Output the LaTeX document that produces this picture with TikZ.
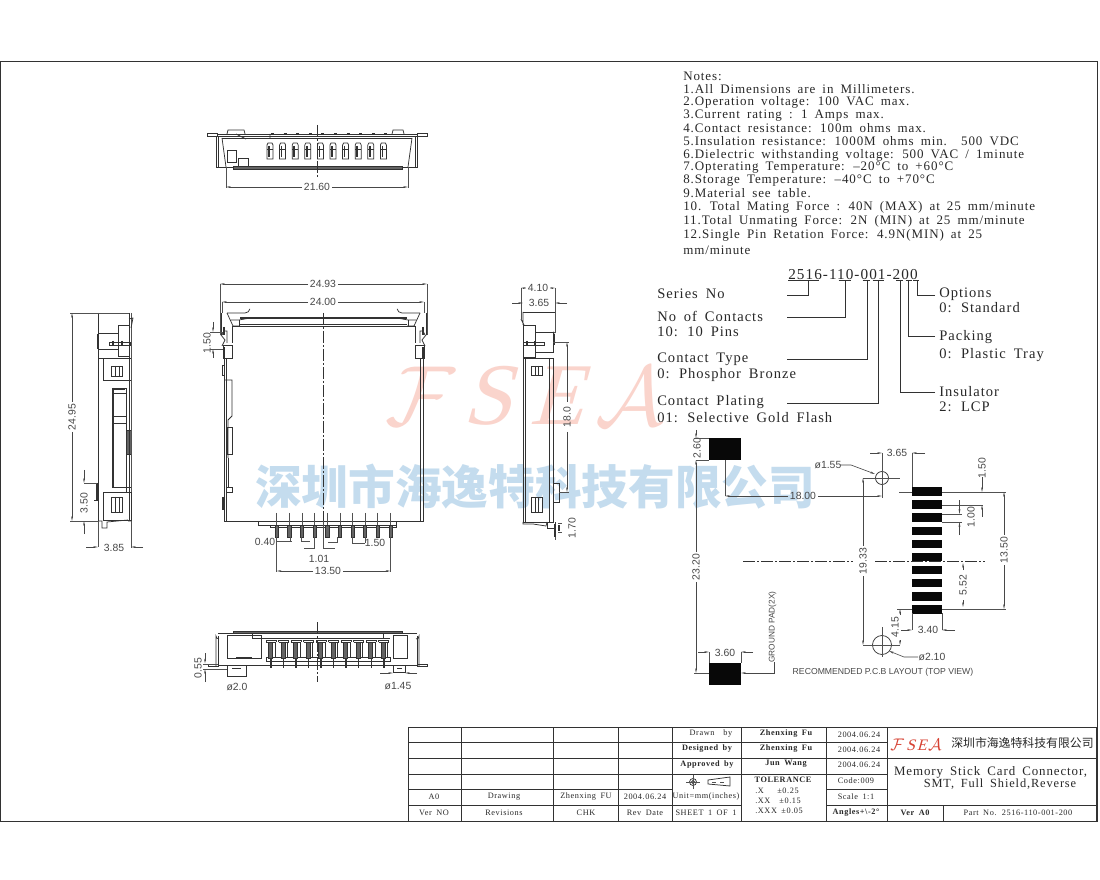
\documentclass[tikz,border=0pt]{standalone}
\usepackage{graphicx}
\usepackage{fontspec}
\usetikzlibrary{arrows.meta}
\setmainfont{Liberation Sans}
\newfontfamily\rn[LetterSpace=7,WordSpace=1.7]{Liberation Serif}
\newfontfamily\dimf{Liberation Sans}
\newfontfamily\cjk{Noto Sans CJK SC}
\newfontfamily\wmserif[FakeSlant=0.28]{Liberation Serif}
\definecolor{ink}{RGB}{50,50,50}
\definecolor{txt}{RGB}{40,40,40}
\definecolor{wmblue}{RGB}{196,220,238}
\definecolor{wmred}{RGB}{250,212,204}
\definecolor{logored}{RGB}{215,65,50}
\definecolor{padk}{RGB}{8,8,8}
\definecolor{pin}{RGB}{100,100,100}
\newcounter{dimc}
\tikzset{
  obj/.style={draw=ink,line width=0.55pt},
  thick obj/.style={draw=ink,line width=1.1pt},
  ext/.style={draw=ink!85,line width=0.4pt},
  center line/.style={draw=ink,line width=0.4pt,dash pattern=on 9pt off 1.5pt on 1.5pt off 1.5pt},
  dimarrow/.style={draw=ink!90,line width=0.45pt,-{Stealth[length=3.6pt,width=1.4pt]}},
  dimtext/.style={font=\dimf\fontsize{7.8}{8}\selectfont,text=txt!85,inner sep=0pt},
  note/.style={font=\rn\fontsize{9.75}{10}\selectfont,text=txt,anchor=west,inner sep=0pt},
  call/.style={font=\rn\fontsize{10.9}{11}\selectfont,text=txt,anchor=west,inner sep=0pt},
  tb/.style={font=\rn\fontsize{6.2}{7}\selectfont,text=txt,inner sep=0pt},
  tbb/.style={font=\rn\bfseries\fontsize{6.2}{7}\selectfont,text=txt,inner sep=0pt},
  grid/.style={draw=ink,line width=0.6pt},
  pad/.style={fill=padk,draw=none},
}
\newcommand{\hdim}[5]{\stepcounter{dimc}%
  \draw[dimarrow] ({#4-15},#1) -- (#2,#1);\draw[dimarrow] ({#4+15},#1) -- (#3,#1);%
  \node[dimtext] (dim\arabic{dimc}) at (#4,#1) {#5};}
\newcommand{\vdim}[5]{\stepcounter{dimc}%
  \draw[dimarrow] (#1,{#4-15}) -- (#1,#2);\draw[dimarrow] (#1,{#4+15}) -- (#1,#3);%
  \node[dimtext,rotate=90] (dim\arabic{dimc}) at (#1,#4) {#5};}
\newcommand{\lab}[3]{\stepcounter{dimc}\node[dimtext] (dim\arabic{dimc}) at (#1,#2) {#3};}
\newcommand{\vlab}[3]{\stepcounter{dimc}\node[dimtext,rotate=90] (dim\arabic{dimc}) at (#1,#2) {#3};}
\newcommand{\cornerfeat}{%
  \draw[obj] (221,313) -- (221,335);
  \draw[obj] (227,313) -- (245,313) arc (90:10:5);
  \draw[obj] (227,313) -- (233,326) -- (240,326);
  \draw[obj] (231,320) -- (239,320) -- (250,318);
  \draw[obj] (239,320) -- (239,326);
  \draw[obj] (232,326) -- (232,343);
  \draw[obj] (222,335) -- (224,331) -- (227,331) -- (227,343);
  \draw[thick obj] (224,327) -- (224,335);
  \draw[obj] (221,335) -- (225,340) -- (222,346);
  \draw[obj] (223,345) rectangle (232,358);
  \draw[thick obj] (224,347) -- (224,358);
}
\begin{document}
\begin{tikzpicture}[x=0.75pt,y=-0.75pt]
\useasboundingbox (0,0) rectangle (1100,880);
\fill[white] (0,0) rectangle (1100,880);
% watermark
\node[inner sep=0pt,text=wmblue] (wmcjk) at (535,487) {\cjk\bfseries\fontsize{35}{35}\selectfont 深圳市海逸特科技有限公司};
\node[inner sep=0pt,text=wmred] (wmF) at (420,396) {\scalebox{6.4}{$\mathcal{F}$}};
\node[inner sep=0pt,text=wmred] (wmS) at (487,396) {\wmserif\fontsize{66}{66}\selectfont S};
\node[inner sep=0pt,text=wmred] (wmE) at (556,396) {\wmserif\fontsize{66}{66}\selectfont E};
\node[inner sep=0pt,text=wmred] (wmA) at (630,396) {\scalebox{6.4}{$\mathcal{A}$}};
% frame
\draw[draw=ink,line width=0.7pt] (0.4,61) -- (1097,61) -- (1097,821) -- (0.4,821) -- cycle;

% ---------- top view
\draw[obj] (207,133) rectangle (217,136);
\draw[obj] (417,133) rectangle (427,136);
\draw[obj] (217,134) -- (417,134) (217,136) -- (417,136);
\draw[obj] (227,134) -- (228,130) -- (244,130) -- (245,134);
\draw[obj] (392,134) -- (393,130) -- (403,130) -- (404,134);
\draw[obj] (216,136) -- (216,167) -- (233,167);
\draw[obj] (218,136) -- (218,167);
\draw[obj] (417,136) -- (417,167) -- (402,167);
\draw[obj] (415,136) -- (415,167);
\draw[obj] (222,138) -- (412,138);
\draw[obj] (222,138) -- (226,167);
\draw[obj] (412,138) -- (408,167);
\draw[obj,fill=pin] (233,166) rectangle (402,169);
\draw[obj] (227,150) rectangle (236,162);
\draw[obj] (238,158) rectangle (248,166);
\draw[obj] (236,134) -- (246,139) (270,134) -- (270,139);
\foreach \i in {0,...,9}{
  \pgfmathsetmacro\cx{270+12.6*\i}
  \draw[obj] ({\cx-3},159) -- ({\cx-3},145) -- ({\cx-2},143) -- ({\cx+2},143) -- ({\cx+3},145) -- ({\cx+3},159) -- cycle;
  \draw[thick obj] ({\cx-1},146) -- ({\cx-1},157);
  \draw[obj] ({\cx-3},149) -- ({\cx+3},149);
  \draw[obj] ({\cx+1},133) -- ({\cx+4},133);
}
\draw[center line] (317,125) -- (317,178);
\draw[ext] (226,167) -- (226,188) (408,167) -- (408,188);
\hdim{187}{226}{408}{317}{21.60}

% ---------- main view
\draw[obj] (224,380) -- (224,521) -- (423,521) -- (423,380);
\draw[obj] (226,358) -- (226,521);
\draw[obj] (420,358) -- (420,521);
\draw[obj] (224,358) -- (224,380) (423,358) -- (423,380);
\draw[obj] (232,326) -- (415,326);
\draw[obj] (240,324.5) -- (407,324.5);
\draw[thick obj] (240,318) -- (407,318);
\cornerfeat
\begin{scope}[shift={(647,0)},xscale=-1]\cornerfeat\end{scope}
\draw[obj] (222,365) rectangle (224,375);
\draw[obj] (224,380) -- (232,380) -- (232,416) (232,416) -- (228,420) -- (228,458);
\draw[obj] (227,427) rectangle (232,454);
\draw[obj] (226,454) -- (226,487);
\draw[obj] (228,458) -- (228,488);
\draw[obj] (226,487) rectangle (232,492);
\draw[thick obj] (223,497) -- (223,510);
\draw[obj] (258,521) -- (258,525) -- (396,525) -- (396,521);
\draw[obj] (270,525) -- (270,527) -- (396,527) -- (396,525);
\foreach \i in {0,...,9}{
  \pgfmathsetmacro\cx{276.7+12.63*\i}
  \draw[ext] (\cx,513) -- (\cx,525);
  \draw[fill=pin,draw=ink,line width=0.4pt] ({\cx-1.6},525) rectangle ({\cx+1.6},537);
}
\draw[center line] (323.3,313) -- (323.3,521);
\hdim{284}{220}{427}{323}{24.93}
\hdim{302}{222}{424}{323}{24.00}
\draw[ext] (220,284) -- (220,335) (427,284) -- (427,335);
\draw[ext] (222,302) -- (222,313) (424,302) -- (424,313);
\draw[ext] (276.7,537) -- (276.7,572) (390.4,537) -- (390.4,572);
\hdim{571}{276.7}{390.4}{328}{13.50}
% 0.40
\lab{265}{542}{0.40}
\draw[ext] (276,541) -- (292,541) (290,537) -- (290,541);
\draw[ext] (301,537) -- (301,541) -- (310,541);
% 1.01
\lab{319}{559}{1.01}
\draw[ext] (314.5,537) -- (314.5,548) -- (304,548);
\draw[ext] (323.3,521) -- (323.3,548) -- (335,548);
% 1.50 bottom
\lab{375}{543}{1.50}
\draw[ext] (352,537) -- (352,543) -- (365,543);
\draw[ext] (365,537) -- (365,543);
\draw[ext] (337,537) -- (337,542) -- (328,542);
% 1.50 left
\vlab{207}{343}{1.50}
\draw[dimarrow] (213,322) -- (213,332);
\draw[dimarrow] (213,358) -- (213,349);
\draw[ext] (210,332) -- (223,332) (210,349) -- (223,349);

% ---------- left view
\draw[obj] (98,313) -- (98,521);
\draw[obj] (129,313) -- (129,358);
\draw[ext] (70,313) -- (129,313) (70,521) -- (98,521);
\draw[obj] (98,358) -- (131,358);
\draw[obj] (103,358) rectangle (131,380);
\draw[obj] (111,366) rectangle (122,376) (115,366) -- (115,376) (119,366) -- (119,376);
\draw[obj] (112,388) rectangle (126,487);
\draw[thick obj] (113,389) -- (125,389);
\draw[obj] (113,388) -- (113,487) (112,393) -- (126,393) (112,416) -- (126,416) (112,423) -- (126,423);
\draw[obj,fill=pin] (126,430) rectangle (131,454);
\draw[obj] (129,358) -- (129,521);
\draw[ext] (131,313) -- (131,548);
\draw[obj] (103,492) rectangle (131,520);
\draw[obj] (126,487) -- (126,492) (131,487) -- (126,487);
\draw[obj] (111,497) rectangle (122,512) (115,497) -- (115,512) (119,497) -- (119,512);
\draw[obj] (118,325) rectangle (129,356);
\draw[obj] (109,342) rectangle (130,345);
\draw[thick obj] (113,341) -- (113,346) (122,341) -- (122,346);
\draw[obj] (98,333) -- (118,333) (98,349) -- (118,349);
\draw[thick obj] (98,334) -- (98,349);
\draw[obj] (129,319) -- (133,318) -- (131,328);
\draw[thick obj] (97,483) -- (97,500);
\draw[obj] (94,483) -- (98,483) (94,500) -- (98,500);
\draw[obj] (98,521) -- (102,521) -- (102,528) -- (107,528) -- (107,522) -- (128,520) (128,521) -- (131,521);
\draw[ext] (98,521) -- (98,547);
\draw[ext] (84,483) -- (97,483);
\vdim{72}{313}{521}{417}{24.95}
\vlab{84}{503}{3.50}
\draw[dimarrow] (84,470) -- (84,483);
\draw[dimarrow] (84,534) -- (84,521);
\lab{114}{548}{3.85}
\draw[dimarrow] (86,547) -- (98,547);
\draw[dimarrow] (143,547) -- (131,547);

% ---------- right view
\draw[ext] (521,288) -- (521,319);
\draw[ext] (555,288) -- (555,333);
\draw[obj] (523,312) -- (555,312);
\draw[obj] (523,312) -- (523,325) (521,319) -- (524,325);
\draw[obj] (523,325) rectangle (535,357);
\draw[obj] (535,332) rectangle (553,352);
\draw[obj] (523,342) rectangle (544,345);
\draw[thick obj] (527,341) -- (527,346) (535,341) -- (535,346);
\draw[thick obj] (554,334) -- (554,345);
\draw[obj] (553,332) -- (555,333);
\draw[obj] (523,358) rectangle (553,522);
\draw[obj] (525.5,358) -- (525.5,522) (549,358) -- (549,522);
\draw[obj] (531,366) rectangle (542,375) (535,366) -- (535,375) (538,366) -- (538,375);
\draw[obj] (531,497) rectangle (542,512) (535,497) -- (535,512) (538,497) -- (538,512);
\draw[obj] (553,483) rectangle (559,502);
\draw[obj] (523,522) -- (523,524) -- (533,524) -- (546,526) -- (547,522);
\draw[obj] (547,522) -- (547,528) -- (555,528) -- (555,522);
\draw[thick obj] (555,524) -- (555,537);
\draw[ext] (555,537) -- (555,540);
\draw[ext] (553,342) -- (569,342) (559,492) -- (569,492);
\hdim{288}{521}{555}{538}{4.10}
\lab{539}{303}{3.65}
\draw[dimarrow] (512,303) -- (523,303);
\draw[dimarrow] (567,303) -- (555,303);
\vdim{567}{342}{492}{417}{18.0}
\vlab{572}{528}{1.70}
\draw[ext] (558,523) -- (562,523) (558,532) -- (562,532);
\draw[thick obj] (559,525) -- (559,531);

% ---------- bottom view
\draw[obj,fill=pin] (233,631) rectangle (402,633);
\draw[obj] (218,633) -- (417,633);
\draw[obj] (216,666) -- (216,636) arc (180:90:3) (419,666) -- (419,636) arc (0:90:3);
\draw[obj] (218,666) -- (218,636) (417,666) -- (417,636);
\draw[obj] (208,664.5) rectangle (218,666.5);
\draw[obj] (417,664.5) rectangle (427,666.5);
\draw[obj] (218,665) -- (417,665);
\draw[obj,fill=white] (252,633) rectangle (383,638);
\draw[obj] (227,635) rectangle (261,658);
\draw[thick obj] (236,657.5) -- (252,657.5);
\draw[obj] (393,635) rectangle (407,658);
\draw[obj] (261,638) -- (390,638);
\draw[obj] (266,657) rectangle (390,661);
\draw[obj] (227,665) -- (227,676) -- (246,676) -- (246,665) (232,668) -- (241,668);
\draw[obj] (393,665) -- (393,672) -- (405,672) -- (405,665) (397,668) -- (402,668);
\foreach \i in {0,...,9}{
  \pgfmathsetmacro\cx{271+12.53*\i}
  \draw[obj] ({\cx-5},642) -- ({\cx-5},640) -- ({\cx+5},640) -- ({\cx+5},642);
  \draw[obj] ({\cx-5},642) -- ({\cx+5},642);
  \draw[fill=pin,draw=ink,line width=0.4pt] ({\cx-2.5},642) rectangle ({\cx+1.5},658);
  \draw[obj] ({\cx+4},642) -- ({\cx+4},658);
  \draw[thick obj] (\cx,658) -- (\cx,667.5);
}
\draw[center line] (317,622) -- (317,682);
\vlab{198}{668}{0.55}
\draw[dimarrow] (205,653) -- (205,663.5);
\draw[dimarrow] (205,682) -- (205,669);
\draw[ext] (203,664) -- (218,664) (203,669) -- (227,669);
\lab{237}{687}{ø2.0}
\lab{398}{686}{ø1.45}
\draw[dimarrow] (380,673) -- (393,673);
\draw[dimarrow] (417,673) -- (405,673);

% ---------- PCB layout
\fill[pad] (709,438) rectangle (741,460);
\fill[pad] (709,663) rectangle (741,685);
\foreach \i in {0,...,9}{
  \fill[pad] (912,{487.3+13.07*\i}) rectangle (942,{496+13.07*\i});
}
\draw[center line] (743,561) -- (853,561) (875,561) -- (985,561);
% 2.60 / 23.20
\vlab{697}{448}{2.60}
\draw[ext] (694,438) -- (709,438) (696,460) -- (709,460);
\draw[dimarrow] (696,430) -- (696,438);
\vdim{696}{460}{673}{567}{23.20}
\draw[ext] (694,673) -- (709,673);
% 3.60
\lab{725}{653}{3.60}
\draw[ext] (709,652) -- (709,663) (741,652) -- (741,663);
\draw[dimarrow] (698,652) -- (709,652);
\draw[dimarrow] (753,652) -- (741,652);
% ground pad
\node[font=\dimf\fontsize{6.2}{7}\selectfont,text=txt!85,rotate=90,inner sep=0pt] (gpad) at (772.5,627) {GROUND PAD(2X)};
\draw[dimarrow] (774,662) -- (774,673) -- (741,673);
% 18.00
\draw[ext] (725,460) -- (725,496);
\draw[ext] (882,465) -- (882,496);
\hdim{496}{725}{882}{803}{18.00}
% holes
\draw[obj] (882,478) circle (6.5);
\draw[ext] (863,478) -- (900,478) (882,453) -- (882,498);
\draw[obj] (882,645) circle (9.5);
\draw[ext] (863,645) -- (900,645) (882,627) -- (882,657);
\lab{828}{465}{ø1.55}
\draw[dimarrow] (840,465) -- (851,465) -- (875,474);
\lab{932}{657}{ø2.10}
\draw[dimarrow] (918,657) -- (904,657) -- (889,651);
% 3.65
\lab{897}{453}{3.65}
\draw[dimarrow] (870,453) -- (882,453);
\draw[dimarrow] (925,453) -- (912,453);
\draw[ext] (912,453) -- (912,487);
% rows
\draw[ext] (899,492) -- (912,492) (942,492) -- (1006,492);
\draw[ext] (942,609) -- (1006,609);
\vdim{1004}{492}{609}{550}{13.50}
\vlab{982}{468}{1.50}
\draw[dimarrow] (982,477) -- (982,492);
\draw[ext] (942,505) -- (983,505) (942,514) -- (962,514) (942,522) -- (962,522);
\vlab{971}{517}{1.00}
\draw[dimarrow] (959.5,500.5) -- (959.5,514);
\draw[dimarrow] (959.5,535) -- (959.5,522);
\draw[dimarrow] (982,517) -- (982,505);
% 5.52
\vdim{963}{563}{607}{585}{5.52}
% 19.33
\vdim{863}{478}{645}{561}{19.33}
% 4.15
\vlab{895}{627}{4.15}
\draw[dimarrow] (900,615) -- (900,609);
\draw[dimarrow] (900,640) -- (900,645);
\draw[ext] (897,609) -- (912,609);
% 3.40
\lab{928}{630}{3.40}
\draw[ext] (912,613) -- (912,630) (942,613) -- (942,630);
\draw[dimarrow] (901,630) -- (912,630);
\draw[dimarrow] (955,630) -- (942,630);
\node[font=\dimf\fontsize{6.5}{7}\selectfont,text=txt!85,inner sep=0pt] (rec) at (883,672) {RECOMMENDED P.C.B LAYOUT (TOP VIEW)};

% ---------- part number
\node[font=\rn\fontsize{11.4}{12}\selectfont,text=txt,anchor=west,inner sep=0pt] (pn) at (788,275) {2516-110-001-200};
\draw[obj] (788,280) -- (819,280) (838.7,280) -- (851.3,280) (862.7,280) -- (870,280) (872.7,280) -- (884,280) (896,280) -- (903.3,280) (905.7,280) -- (911.7,280) (913.3,280) -- (919.3,280);
\draw[obj] (787,295) -- (808,295) -- (808,280);
\draw[obj] (787,317) -- (845,317) -- (845,280);
\draw[obj] (787,359) -- (867,359) -- (867,280);
\draw[obj] (787,403) -- (878,403) -- (878,280);
\draw[obj] (935,392) -- (900,392) -- (900,280);
\draw[obj] (935,336) -- (908,336) -- (908,280);
\draw[obj] (935,295) -- (917,295) -- (917,280);
\node[call] (cA) at (657,294) {Series No};
\node[call] (cB) at (657,316) {No of Contacts};
\node[call] (cC) at (657,332) {10: 10 Pins};
\node[call] (cD) at (657,359) {Contact Type};
\node[call] (cE) at (657,375) {0: Phosphor Bronze};
\node[call] (cF) at (657,402) {Contact Plating};
\node[call] (cG) at (657,418) {01: Selective Gold Flash};
\node[call] (cH) at (939,294) {Options};
\node[call] (cI) at (939,308) {0: Standard};
\node[call] (cJ) at (939,337) {Packing};
\node[call] (cK) at (939,355) {0: Plastic Tray};
\node[call] (cL) at (939,392) {Insulator};
\node[call] (cM) at (939,407) {2: LCP};

% ---------- notes
\node[note] (n0) at (683,76.5) {Notes:};
\node[note] (n1) at (683,89.5) {1.All Dimensions are in Millimeters.};
\node[note] (n2) at (683,102.5) {2.Operation voltage: 100 VAC max.};
\node[note] (n3) at (683,115.5) {3.Current rating : 1 Amps max.};
\node[note] (n4) at (683,128.5) {4.Contact resistance: 100m ohms max.};
\node[note] (n5) at (683,141.5) {5.Insulation resistance: 1000M ohms min.\ \ 500 VDC};
\node[note] (n6) at (683,155) {6.Dielectric withstanding voltage: 500 VAC / 1minute};
\node[note] (n7) at (683,167.5) {7.Opterating Temperature: –20°C to +60°C};
\node[note] (n8) at (683,180.5) {8.Storage Temperature: –40°C to +70°C};
\node[note] (n9) at (683,193.5) {9.Material see table.};
\node[note] (n10) at (683,207) {10. Total Mating Force : 40N (MAX) at 25 mm/minute};
\node[note] (n11) at (683,221) {11.Total Unmating Force: 2N (MIN) at 25 mm/minute};
\node[note] (n12) at (683,235.5) {12.Single Pin Retation Force: 4.9N(MIN) at 25};
\node[note] (n13) at (683,250) {mm/minute};

% ---------- title block
\draw[grid] (408,727) rectangle (1096,821);
\foreach \y in {742,758,774}{\draw[grid] (408,\y) -- (887,\y);}
\draw[grid] (408,789) -- (672,789);
\draw[grid] (408,805) -- (741,805);
\draw[grid] (826,789) -- (887,789) (826,805) -- (887,805);
\foreach \x in {461,553,618,672,741,826,887}{\draw[grid] (\x,727) -- (\x,821);}
\draw[grid] (887,758) -- (1096,758) (887,805) -- (1096,805);
\draw[grid] (943,805) -- (943,821);
\node[tb] (t1) at (434,797) {A0};
\node[tb] (t2) at (504,797) {Drawing};
\node[tb] (t3) at (586,797) {Zhenxing FU};
\node[tb] (t4) at (645,797) {2004.06.24};
\node[tb] (t5) at (706,797) {Unit=mm(inches)};
\node[tb] (t6) at (434,813) {Ver NO};
\node[tb] (t7) at (504,813) {Revisions};
\node[tb] (t8) at (586,813) {CHK};
\node[tb] (t9) at (645,813) {Rev Date};
\node[tb] (t10) at (706,813) {SHEET 1 OF 1};
\node[tb] (t11) at (711,734) {Drawn\ \ by};
\node[tbb] (t12) at (707,749) {Designed by};
\node[tbb] (t13) at (707,765) {Approved by};
\node[tbb] (t14) at (786,734) {Zhenxing Fu};
\node[tbb] (t15) at (786,749) {Zhenxing Fu};
\node[tbb] (t16) at (786,764) {Jun Wang};
\node[tb] (t17) at (859,735) {2004.06.24};
\node[tb] (t18) at (859,750) {2004.06.24};
\node[tb] (t19) at (859,765) {2004.06.24};
\node[tbb] (t20) at (783,780) {TOLERANCE};
\node[tb,anchor=west] (t21) at (755,791) {.X\ \ \ ±0.25};
\node[tb,anchor=west] (t22) at (755,801) {.XX\ \ ±0.15};
\node[tb,anchor=west] (t23) at (755,811) {.XXX ±0.05};
\node[tb] (t24) at (856,781) {Code:009};
\node[tb] (t25) at (856,797) {Scale 1:1};
\node[tbb] (t26) at (856,812.5) {Angles+\textbackslash-2°};
\node[tbb] (t27) at (915,813) {Ver A0};
\node[tb] (t28) at (1018,813) {Part No. 2516-110-001-200};
\node[font=\rn\fontsize{9.7}{11}\selectfont,text=txt,inner sep=0pt] (t29) at (990.5,772) {Memory Stick Card Connector,};
\node[font=\rn\fontsize{9.3}{11}\selectfont,text=txt,inner sep=0pt] (t30) at (1000,784) {SMT, Full Shield,Reverse};
\node[font=\cjk\fontsize{8.9}{9}\selectfont,text=txt,anchor=west,inner sep=0pt] (t31) at (951,743) {深圳市海逸特科技有限公司};
\node[text=logored,inner sep=0pt,anchor=west] (logo) at (890,745) {\fontsize{12}{12}\selectfont\scalebox{1.05}{$\mathcal{F}$}\kern1.5pt{\wmserif S}\kern1.5pt{\wmserif E}\kern1pt\scalebox{1.05}{$\mathcal{A}$}};
% symbols
\draw[obj] (693,782) circle (3.5) (693,782) circle (1.5);
\draw[ext] (686,782) -- (700,782) (693,775) -- (693,789);
\draw[obj] (708,780) -- (730,777) -- (730,786) -- (708,784) -- cycle;
\draw[ext,dashed] (712,782) -- (726,782);
\end{tikzpicture}
\end{document}
